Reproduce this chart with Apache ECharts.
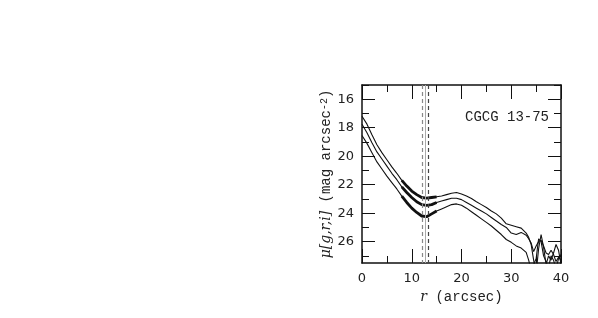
<!DOCTYPE html>
<html>
<head>
<meta charset="utf-8">
<script src="https://cdn.jsdelivr.net/npm/echarts@6/dist/echarts.min.js"></script>
<style>
  html, body { margin: 0; padding: 0; background: #fff; }
  #chart { width: 598px; height: 318px; }
</style>
</head>
<body>
<div id="chart"></div>
<script>
// radius (arcsec)
var radius = [0, 1, 2, 3, 4, 5, 6, 7, 8, 9, 10, 11, 12, 13, 14, 15, 16, 17, 18, 19,
  20, 21, 22, 23, 24, 25, 26, 27, 28, 29, 30, 31, 32, 33, 33.5, 34, 34.5, 35, 35.5,
  36, 36.5, 37, 37.5, 38, 38.5, 39, 39.5, 40];
// surface brightness profiles (mag arcsec^-2)
var muTop = [17.2, 17.75, 18.5, 19.2, 19.75, 20.25, 20.75, 21.2, 21.7, 22.1, 22.45, 22.7, 22.9, 22.95, 22.9, 22.85,
  22.8, 22.7, 22.6, 22.55, 22.65, 22.8, 22.97, 23.2, 23.4, 23.6, 23.85, 24.05, 24.35, 24.75, 24.85, 24.95,
  25.05, 25.4, 25.7, 26.2, 27.3, 28.2, 26.5, 25.5, 26.4, 27.6, 27.0, 27.3, 26.8, 26.2, 26.6, 27.6];
var muMid = [17.75, 18.35, 19.05, 19.7, 20.2, 20.7, 21.2, 21.65, 22.15, 22.55, 22.9, 23.2, 23.4, 23.45, 23.4, 23.25,
  23.15, 23.05, 22.95, 22.95, 23.05, 23.25, 23.45, 23.65, 23.85, 24.05, 24.3, 24.55, 24.8, 25.0, 25.4, 25.5,
  25.35, 25.55, 25.8, 26.1, 26.7, 26.3, 26.0, 25.9, 26.3, 26.8, 26.9, 26.6, 26.9, 27.4, 27.1, 27.3];
var muBot = [18.55, 19.1, 19.75, 20.4, 20.9, 21.4, 21.85, 22.3, 22.8, 23.25, 23.65, 23.95, 24.2, 24.25, 24.05, 23.85,
  23.7, 23.55, 23.4, 23.35, 23.45, 23.65, 23.9, 24.15, 24.4, 24.65, 24.9, 25.2, 25.5, 25.85, 26.05, 26.3,
  26.45, 26.75, 27.3, 28.0, 27.6, 27.2, 25.8, 26.0, 27.0, 27.4, 27.8, 27.0, 27.3, 27.9, 27.2, 26.9];
// range drawn thick
var fitRange = [8, 15];
// vertical markers (arcsec)
var markerR = [12.1, 12.7, 13.3];
// y tick values
var yMajor = [16, 18, 20, 22, 24, 26];
var yMinor = [15, 17, 19, 21, 23, 25, 27];

function pairs(ys) {
  return radius.map(function (r, i) { return [r, ys[i]]; });
}
function thick(ys) {
  return pairs(ys).filter(function (p) { return p[0] >= fitRange[0] && p[0] <= fitRange[1]; });
}

var ink = '#111';
var myChart = echarts.init(document.getElementById('chart'));

var xBase = {
  type: 'value', min: 0, max: 40, interval: 10,
  axisLine: { show: true, lineStyle: { color: ink, width: 1.5 } },
  axisTick: { inside: true, length: 14, lineStyle: { color: ink } },
  minorTick: { show: true, splitNumber: 2, length: 7, lineStyle: { color: ink } },
  splitLine: { show: false }
};
function yAxisDef(pos, ticks, len, withLine, withLabel) {
  return {
    type: 'value', min: 15, max: 27.5, inverse: true, position: pos,
    axisLine: { show: withLine, lineStyle: { color: ink, width: 1.5 } },
    axisTick: { show: true, inside: true, length: len, customValues: ticks, lineStyle: { color: ink } },
    axisLabel: { show: withLabel, customValues: ticks, margin: 8, color: '#222', fontFamily: 'DejaVu Sans', fontSize: 13 },
    splitLine: { show: false }
  };
}

var yMain = yAxisDef('left', yMajor, 13, true, true);
yMain.name = '{i|μ[g,r,i]} (mag arcsec{s|-2})';
yMain.nameLocation = 'middle';
yMain.nameGap = 27;
yMain.nameRotate = 90;
yMain.nameTextStyle = {
  fontFamily: 'Liberation Mono', fontSize: 14, color: '#222',
  rich: {
    i: { fontFamily: 'DejaVu Serif', fontStyle: 'italic', fontSize: 14, color: '#222' },
    s: { fontFamily: 'Liberation Mono', fontSize: 10, verticalAlign: 'top', color: '#222' }
  }
};

function lineSeries(data, w) {
  return {
    type: 'line', data: data, symbol: 'none', silent: true,
    lineStyle: { color: ink, width: w }, xAxisIndex: 0, yAxisIndex: 0, animation: false
  };
}

var series = [
  lineSeries(pairs(muTop), 1.1),
  lineSeries(pairs(muMid), 1.1),
  lineSeries(pairs(muBot), 1.1),
  lineSeries(thick(muTop), 2.8),
  lineSeries(thick(muMid), 2.8),
  lineSeries(thick(muBot), 2.8)
];
series[0].markLine = {
  silent: true, symbol: 'none', label: { show: false }, animation: false,
  data: [
    { xAxis: markerR[0], lineStyle: { color: '#888', type: [4, 3], width: 1.2 } },
    { xAxis: markerR[1], lineStyle: { color: '#aaa', type: 'solid', width: 1 } },
    { xAxis: markerR[2], lineStyle: { color: '#444', type: [4, 3], width: 1.2 } }
  ]
};

myChart.setOption({
  animation: false,
  backgroundColor: '#fff',
  grid: { left: 362, right: 37, top: 85, bottom: 55 },
  title: {
    text: 'CGCG 13-75', right: 44, top: 105,
    textStyle: { fontFamily: 'Liberation Mono', fontSize: 14, fontWeight: 'normal', color: '#222' }
  },
  xAxis: [
    Object.assign({}, xBase, {
      position: 'bottom',
      axisLabel: { margin: 9, color: '#222', fontFamily: 'DejaVu Sans', fontSize: 13 },
      name: '{i|r} (arcsec)', nameLocation: 'middle', nameGap: 19,
      nameTextStyle: {
        fontFamily: 'Liberation Mono', fontSize: 14, color: '#222',
        rich: { i: { fontFamily: 'DejaVu Serif', fontStyle: 'italic', fontSize: 14, color: '#222' } }
      }
    }),
    Object.assign({}, xBase, { position: 'top', axisLabel: { show: false } })
  ],
  yAxis: [
    yMain,
    yAxisDef('left', yMinor, 7, false, false),
    yAxisDef('right', yMajor, 13, true, false),
    yAxisDef('right', yMinor, 7, false, false)
  ],
  series: series
});
</script>
</body>
</html>
